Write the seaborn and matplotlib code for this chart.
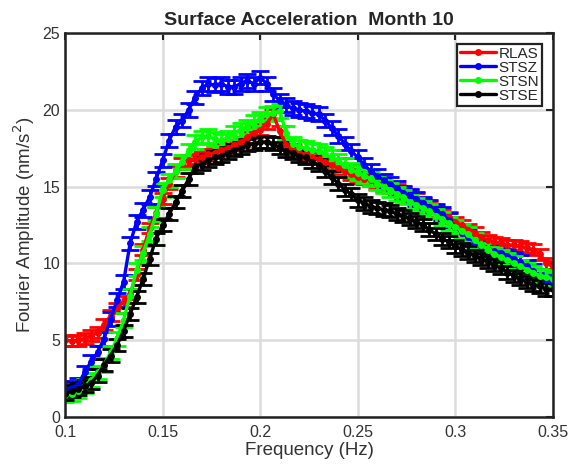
import numpy as np
import pandas as pd
import matplotlib
matplotlib.use('Agg')
import matplotlib.pyplot as plt
import seaborn as sns

# frequency axis: 76 samples from 0.1 to 0.35 Hz
freq = np.linspace(0.1, 0.35, 76)

rlas = [5.0, 4.95, 5.0, 5.1, 5.3, 5.5, 6.0, 6.6, 7.1, 7.5,
        8.0, 9.3, 10.9, 12.3, 13.3, 14.2, 15.2, 16.0, 16.5, 16.7,
        16.8, 16.9, 17.1, 17.2, 17.4, 17.5, 17.7, 17.9, 18.2, 18.5,
        18.7, 19.1, 19.7, 18.6, 17.7, 17.4, 17.2, 17.1, 16.9, 16.8,
        16.6, 16.4, 16.2, 16.0, 15.8, 15.6, 15.5, 15.4, 15.2, 15.0,
        14.9, 14.8, 14.6, 14.4, 14.2, 13.9, 13.7, 13.4, 13.2, 13.0,
        12.7, 12.5, 12.2, 12.0, 11.7, 11.5, 11.4, 11.3, 11.2, 11.2,
        11.1, 11.0, 10.9, 10.6, 10.0, 9.8]

stsz = [1.8, 1.9, 2.1, 2.9, 3.6, 4.2, 5.1, 6.4, 7.6, 8.8,
        11.3, 12.7, 13.5, 14.3, 15.5, 16.7, 18.0, 18.9, 19.3, 20.0,
        20.8, 21.4, 21.7, 21.6, 21.7, 21.5, 21.5, 21.7, 21.9, 21.7,
        22.1, 21.7, 21.0, 20.6, 20.3, 20.1, 20.0, 19.9, 19.8, 19.7,
        19.3, 18.8, 18.3, 17.8, 17.3, 16.9, 16.4, 16.0, 15.7, 15.4,
        15.2, 14.9, 14.6, 14.4, 14.2, 13.9, 13.7, 13.4, 13.2, 12.8,
        12.4, 12.0, 11.7, 11.4, 11.1, 10.9, 10.8, 10.7, 10.5, 10.3,
        10.1, 9.8, 9.5, 9.2, 8.9, 8.7]

stsn = [1.4, 1.5, 1.7, 2.0, 2.4, 2.9, 3.4, 4.2, 5.1, 6.3,
        7.9, 9.6, 10.7, 11.9, 13.2, 14.8, 15.4, 16.0, 16.6, 17.3,
        17.9, 18.2, 18.3, 18.1, 18.0, 18.2, 18.5, 18.7, 18.9, 19.2,
        19.4, 19.7, 19.8, 19.9, 18.5, 17.8, 17.6, 17.5, 17.4, 17.3,
        17.1, 16.9, 16.7, 16.4, 16.1, 15.9, 15.7, 15.5, 15.2, 15.0,
        14.8, 14.5, 14.3, 14.0, 13.8, 13.6, 13.4, 13.1, 12.9, 12.6,
        12.4, 12.1, 11.9, 11.5, 11.2, 10.9, 10.6, 10.4, 10.2, 10.0,
        9.8, 9.6, 9.4, 9.2, 9.1, 9.0]

stse = [1.5, 1.7, 1.8, 2.0, 2.2, 2.7, 3.4, 4.0, 4.7, 5.6,
        6.7, 7.8, 9.0, 10.3, 11.6, 12.5, 13.2, 14.0, 14.7, 15.5,
        16.3, 16.5, 16.7, 16.9, 17.0, 17.2, 17.4, 17.5, 17.7, 17.8,
        17.9, 17.9, 17.8, 17.5, 17.3, 17.2, 17.0, 16.9, 16.6, 16.4,
        16.0, 15.6, 15.2, 14.8, 14.5, 14.1, 13.9, 13.7, 13.6, 13.5,
        13.4, 13.2, 13.1, 12.9, 12.7, 12.5, 12.2, 11.9, 11.6, 11.4,
        11.1, 10.9, 10.7, 10.5, 10.3, 10.1, 9.9, 9.7, 9.4, 9.2,
        9.0, 8.8, 8.6, 8.5, 8.3, 8.3]

stations = ['RLAS', 'STSZ', 'STSN', 'STSE']
errs = [0.35, 0.45, 0.45, 0.4]  # half length of the error bars
colors = ['#ff0000', '#0000ff', '#00ff00', '#000000']

df = pd.DataFrame({'freq': np.tile(freq, 4),
                   'amp': rlas + stsz + stsn + stse,
                   'station': np.repeat(stations, len(freq))})

sns.set_style('whitegrid', {'grid.color': '#dcdcdc', 'axes.edgecolor': '#222222'})
plt.rcParams['font.family'] = ['Liberation Sans', 'DejaVu Sans']

fig = plt.figure(figsize=(5.79, 4.66), dpi=100)
ax = fig.add_axes([0.1123, 0.1052, 0.8428, 0.824])

# error bars first, lines on top
for st, e, c in zip(stations, errs, colors):
    sub = df[df.station == st]
    ax.errorbar(sub.freq, sub.amp, yerr=e, fmt='none', ecolor=c,
                elinewidth=2, capsize=6.5, capthick=2)

sns.lineplot(data=df, x='freq', y='amp', hue='station', palette=colors,
             marker='o', markersize=5, markeredgewidth=0, linewidth=2.4, ax=ax)

ax.set_xlim(0.1, 0.35)
ax.set_ylim(0, 25)
ax.set_xticks([0.1, 0.15, 0.2, 0.25, 0.3, 0.35])
ax.set_xticklabels(['0.1', '0.15', '0.2', '0.25', '0.3', '0.35'])
ax.set_yticks([0, 5, 10, 15, 20, 25])
ax.grid(True, linewidth=1.8)
ax.tick_params(direction='in', length=5, width=1.5, top=True, right=True,
               labelsize=11.5, colors='#222222', labelcolor='#333333', pad=3.5)
ax.tick_params(axis='x', pad=5.5)
for s in ax.spines.values():
    s.set_linewidth(1.8)
    s.set_color('#222222')

ax.set_xlabel('Frequency (Hz)', fontsize=13.5, color='#333333', labelpad=2)
ax.set_ylabel('Fourier Amplitude (nm/s$^2$)', fontsize=13.5, color='#333333', labelpad=4)
ax.set_title('Surface Acceleration  Month 10', fontsize=14, fontweight='bold', pad=6)

leg = ax.legend(loc='upper right', fontsize=11, frameon=True, fancybox=False,
                borderpad=0.2, labelspacing=0.0, handlelength=2.4,
                handletextpad=0.15, borderaxespad=0.7)
leg.get_frame().set_edgecolor('#222222')
leg.get_frame().set_linewidth(1.6)
leg.get_frame().set_alpha(1)

fig.savefig('out.png', dpi=100)
